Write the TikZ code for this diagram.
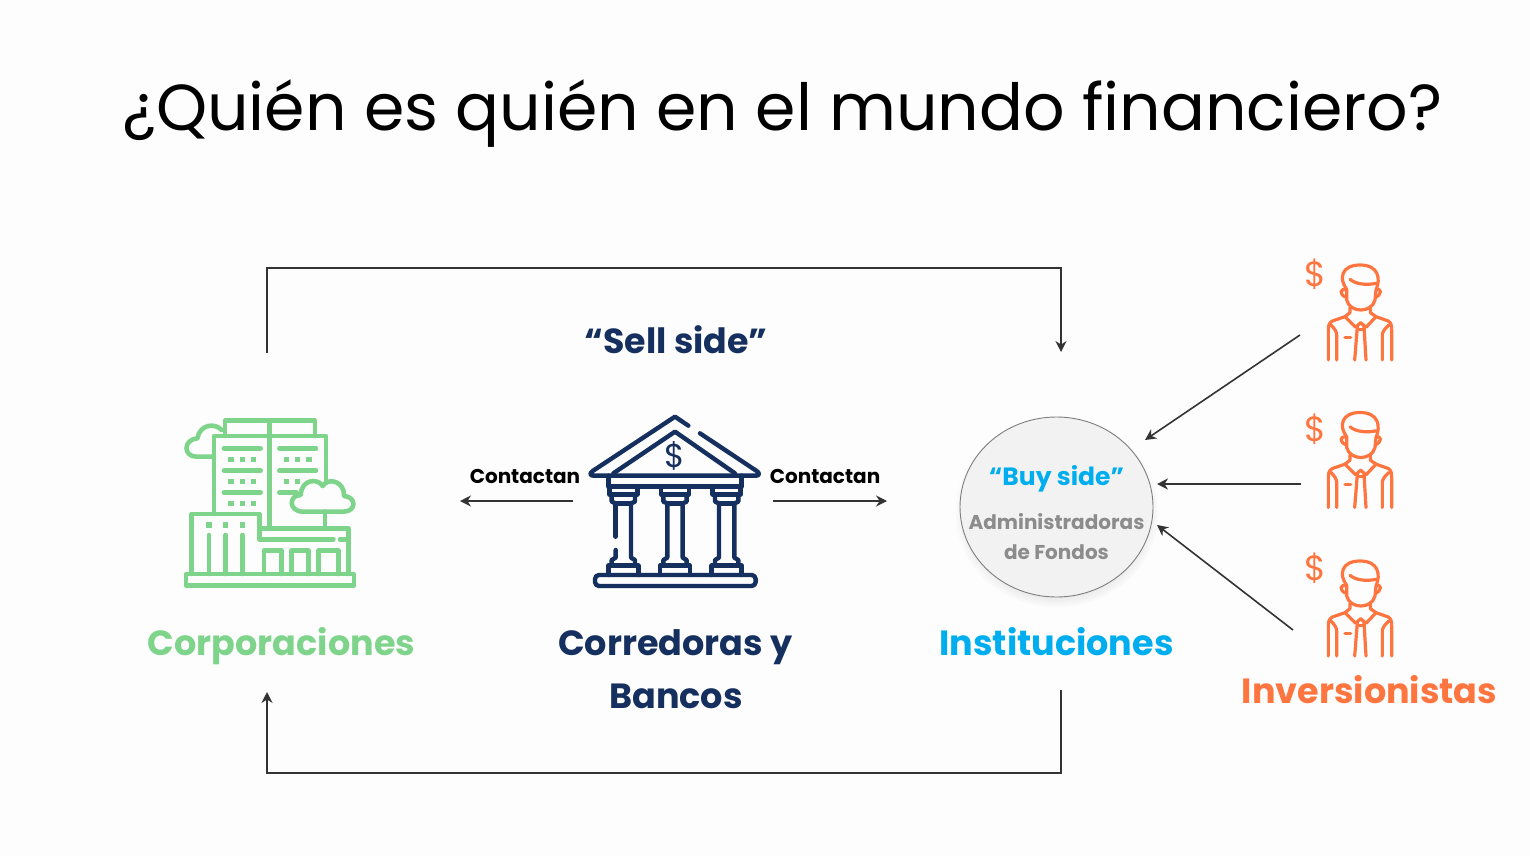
\documentclass[tikz,border=0pt]{standalone}
\usepackage{fontspec}
\setmainfont{Poppins}
\usetikzlibrary{arrows.meta,shadows,shapes.geometric}
\definecolor{bgc}{HTML}{FDFDFD}
\definecolor{gr}{HTML}{7FD48C}
\definecolor{nv}{HTML}{15305F}
\definecolor{bl}{HTML}{00AEEF}
\definecolor{org}{HTML}{FF7540}
\definecolor{gy}{HTML}{8C8C8C}
\definecolor{ln}{HTML}{333333}
\newcommand{\fs}[1]{\fontsize{#1}{#1}\selectfont}
\tikzset{
 lbl/.style={inner sep=0pt,font=\bfseries\fs{#1}},
 conn/.style={draw=ln,line width=1.6pt,-{Stealth[length=11pt,width=11pt]}},
 ico/.style={line join=round,line cap=round,fill=none},
}
\begin{document}
\begin{tikzpicture}[x=1pt,y=-1pt]
\useasboundingbox (0,0) rectangle (1530,856);
\fill[bgc] (0,0) rectangle (1530,856);
\node[inner sep=0pt,text=black,font=\fs{65}] (title) at (782.5,113.5) {¿Quién es quién en el mundo financiero?};

% building
\begin{scope}[shift={(170,400)},scale=1/3,draw=gr,line width=4.6pt,ico]
\draw (48,522) rectangle (552,556);
\draw (65,522)--(65,342)--(268,342)--(268,418)--(490,418);
\draw (268,385)--(535,385)--(535,522);
\draw (510,418)--(535,418);
\foreach \a/\b in {282/335,365/415,445/505}{\draw (\a,522)--(\a,452)--(\b,452)--(\b,522);}
\draw (132,342)--(132,108)--(468,108)--(468,240);
\draw (298,62)--(298,385);
\draw (165,108)--(165,62)--(435,62)--(435,108);
\foreach \y in {145,212,278}{\draw (162,\y)--(272,\y);}
\foreach \y in {145,212}{\draw (328,\y)--(438,\y);}
\draw (328,278)--(380,278);
\foreach \y in {178,245,310}{\foreach \x in {183,217,250}{\fill[gr] (\x-8,\y-8) rectangle (\x+8,\y+8);}}
\foreach \y in {178}{\foreach \x in {350,383,417}{\fill[gr] (\x-8,\y-8) rectangle (\x+8,\y+8);}}
\foreach \x in {350,383}{\fill[gr] (\x-8,237) rectangle (\x+8,253);}
\foreach \x in {117,167,217}{\fill[gr] (\x-8,367) rectangle (\x+8,383);\draw (\x,405)--(\x,522);}
\draw (155,90) .. controls (135,68) and (90,72) .. (82,115) .. controls (40,118) and (38,170) .. (80,170) -- (132,170);
\draw[fill=bgc] (400,335) .. controls (355,335) and (355,285) .. (392,285) .. controls (395,235) and (445,235) .. (458,258) .. controls (475,230) and (525,245) .. (522,288) .. controls (560,290) and (560,335) .. (520,335) -- cycle;
\draw (465,335)--(465,385);
\end{scope}

% bank
\begin{scope}[shift={(580,405)},scale=1/3,draw=nv,line width=4.4pt,ico]
\draw (325,62)--(285,35)--(38,198) .. controls (28,205) and (30,212) .. (40,212)--(528,212) .. controls (538,212) and (540,205) .. (530,198)--(360,85);
\draw (100,205)--(285,80)--(465,205);
\draw (85,212)--(85,245)--(485,245)--(485,212);
\foreach \c in {130,285,440}{
 \draw (\c-42,245)--(\c-42,268)--(\c+42,268)--(\c+42,245);
 \draw (\c-35,268)--(\c-35,290)--(\c-23,295);
 \draw (\c+35,268)--(\c+35,290)--(\c+23,295);
 \draw (\c-23,295)--(\c+23,295);
 \draw (\c+23,295)--(\c+23,458)--(\c+35,465)--(\c+35,482);
 \draw (\c-45,510)--(\c-45,482)--(\c+45,482)--(\c+45,510);
}
\foreach \c in {285,440}{\draw (\c-23,295)--(\c-23,458)--(\c-35,465)--(\c-35,482);}
\draw (107,295)--(107,395);
\draw (107,435)--(107,458)--(95,465)--(95,482);
\draw[rounded corners=4pt] (45,510) rectangle (527,543);
\end{scope}
\node[inner sep=0pt,text=nv,font=\fs{33}] (dollar) at (675,456) {\$};

% people
\foreach \n/\dy/\dd in {a/0/274,b/147.5/429,c/296/568}{
\begin{scope}[shift={(1295,250+\dy)},scale=1/3,draw=org,line width=3.2pt,ico]
\draw (155,118) .. controls (130,85) and (140,45) .. (195,45) .. controls (250,45) and (258,85) .. (243,120);
\draw (165,88) .. controls (185,105) and (220,105) .. (243,100);
\draw (155,118)--(155,150) .. controls (165,190) and (230,190) .. (240,150)--(243,120);
\draw (155,120) .. controls (135,112) and (130,135) .. (155,142);
\draw (243,120) .. controls (260,112) and (262,135) .. (240,142);
\draw (165,172)--(165,188)--(150,200)--(182,232)--(197,218)--(213,232)--(243,200)--(226,188)--(226,172);
\draw (150,200)--(112,213) .. controls (100,220) and (100,230) .. (100,240)--(100,330);
\draw (243,200)--(280,213) .. controls (290,220) and (290,230) .. (290,240)--(290,330);
\draw (125,330)--(125,255) .. controls (125,245) and (118,235) .. (108,225);
\draw (262,330)--(262,255) .. controls (262,245) and (270,235) .. (282,225);
\draw (187,230)--(179,330);
\draw (207,230)--(213,330);
\draw (187,238)--(207,238);
\draw (150,262)--(167,262);
\end{scope}
\node[inner sep=0pt,text=org,font=\fs{35}] (dol\n) at (1315.5,\dd) {\$};
}

% circle
\node[ellipse,minimum width=193pt,minimum height=180pt,inner sep=0pt,draw=gy!90!black,line width=0.9pt,fill=black!5,circular drop shadow={shadow xshift=0pt,shadow yshift=-5pt,shadow scale=1.06,opacity=0.18}] (circ) at (1056.5,507) {};
\node[lbl=25,text=bl] (buy) at (1056.5,479) {“Buy side”};
\node[lbl=20,text=gy] (adm) at (1056.5,521.5) {Administradoras};
\node[lbl=20,text=gy] (fon) at (1056.5,552) {de Fondos};

% labels
\node[lbl=34.8,text=nv] (sell) at (676,339.5) {“Sell side”};
\node[lbl=20,text=black] (c1) at (525,476) {Contactan};
\node[lbl=20,text=black] (c2) at (825,476) {Contactan};
\node[lbl=35,text=gr] (corp) at (281.5,646) {Corporaciones};
\node[lbl=35,text=nv] (corr) at (675.5,647) {Corredoras y};
\node[lbl=35,text=nv] (banc) at (676,696) {Bancos};
\node[lbl=35,text=bl] (inst) at (1056.5,641.5) {Instituciones};
\node[lbl=35,text=org] (inv) at (1369.5,689.5) {Inversionistas};

% connector ends
\coordinate (t0) at (267,353); \coordinate (t1) at (1061,352);
\coordinate (b0) at (1061,690); \coordinate (b1) at (267,692);
\coordinate (l0) at (573,501); \coordinate (l1) at (460,501);
\coordinate (r0) at (773,501); \coordinate (r1) at (887,501);
\coordinate (ia0) at (1300,335); \coordinate (ia1) at (1145,440);
\coordinate (ib0) at (1301,484); \coordinate (ib1) at (1157,484);
\coordinate (ic0) at (1293,630); \coordinate (ic1) at (1157,525);
\draw[conn] (t0) |- (1061,268) -- (t1);
\draw[conn] (b0) |- (267,773) -- (b1);
\draw[conn] (l0) -- (l1);
\draw[conn] (r0) -- (r1);
\draw[conn] (ia0) -- (ia1);
\draw[conn] (ib0) -- (ib1);
\draw[conn] (ic0) -- (ic1);
\end{tikzpicture}
\end{document}
